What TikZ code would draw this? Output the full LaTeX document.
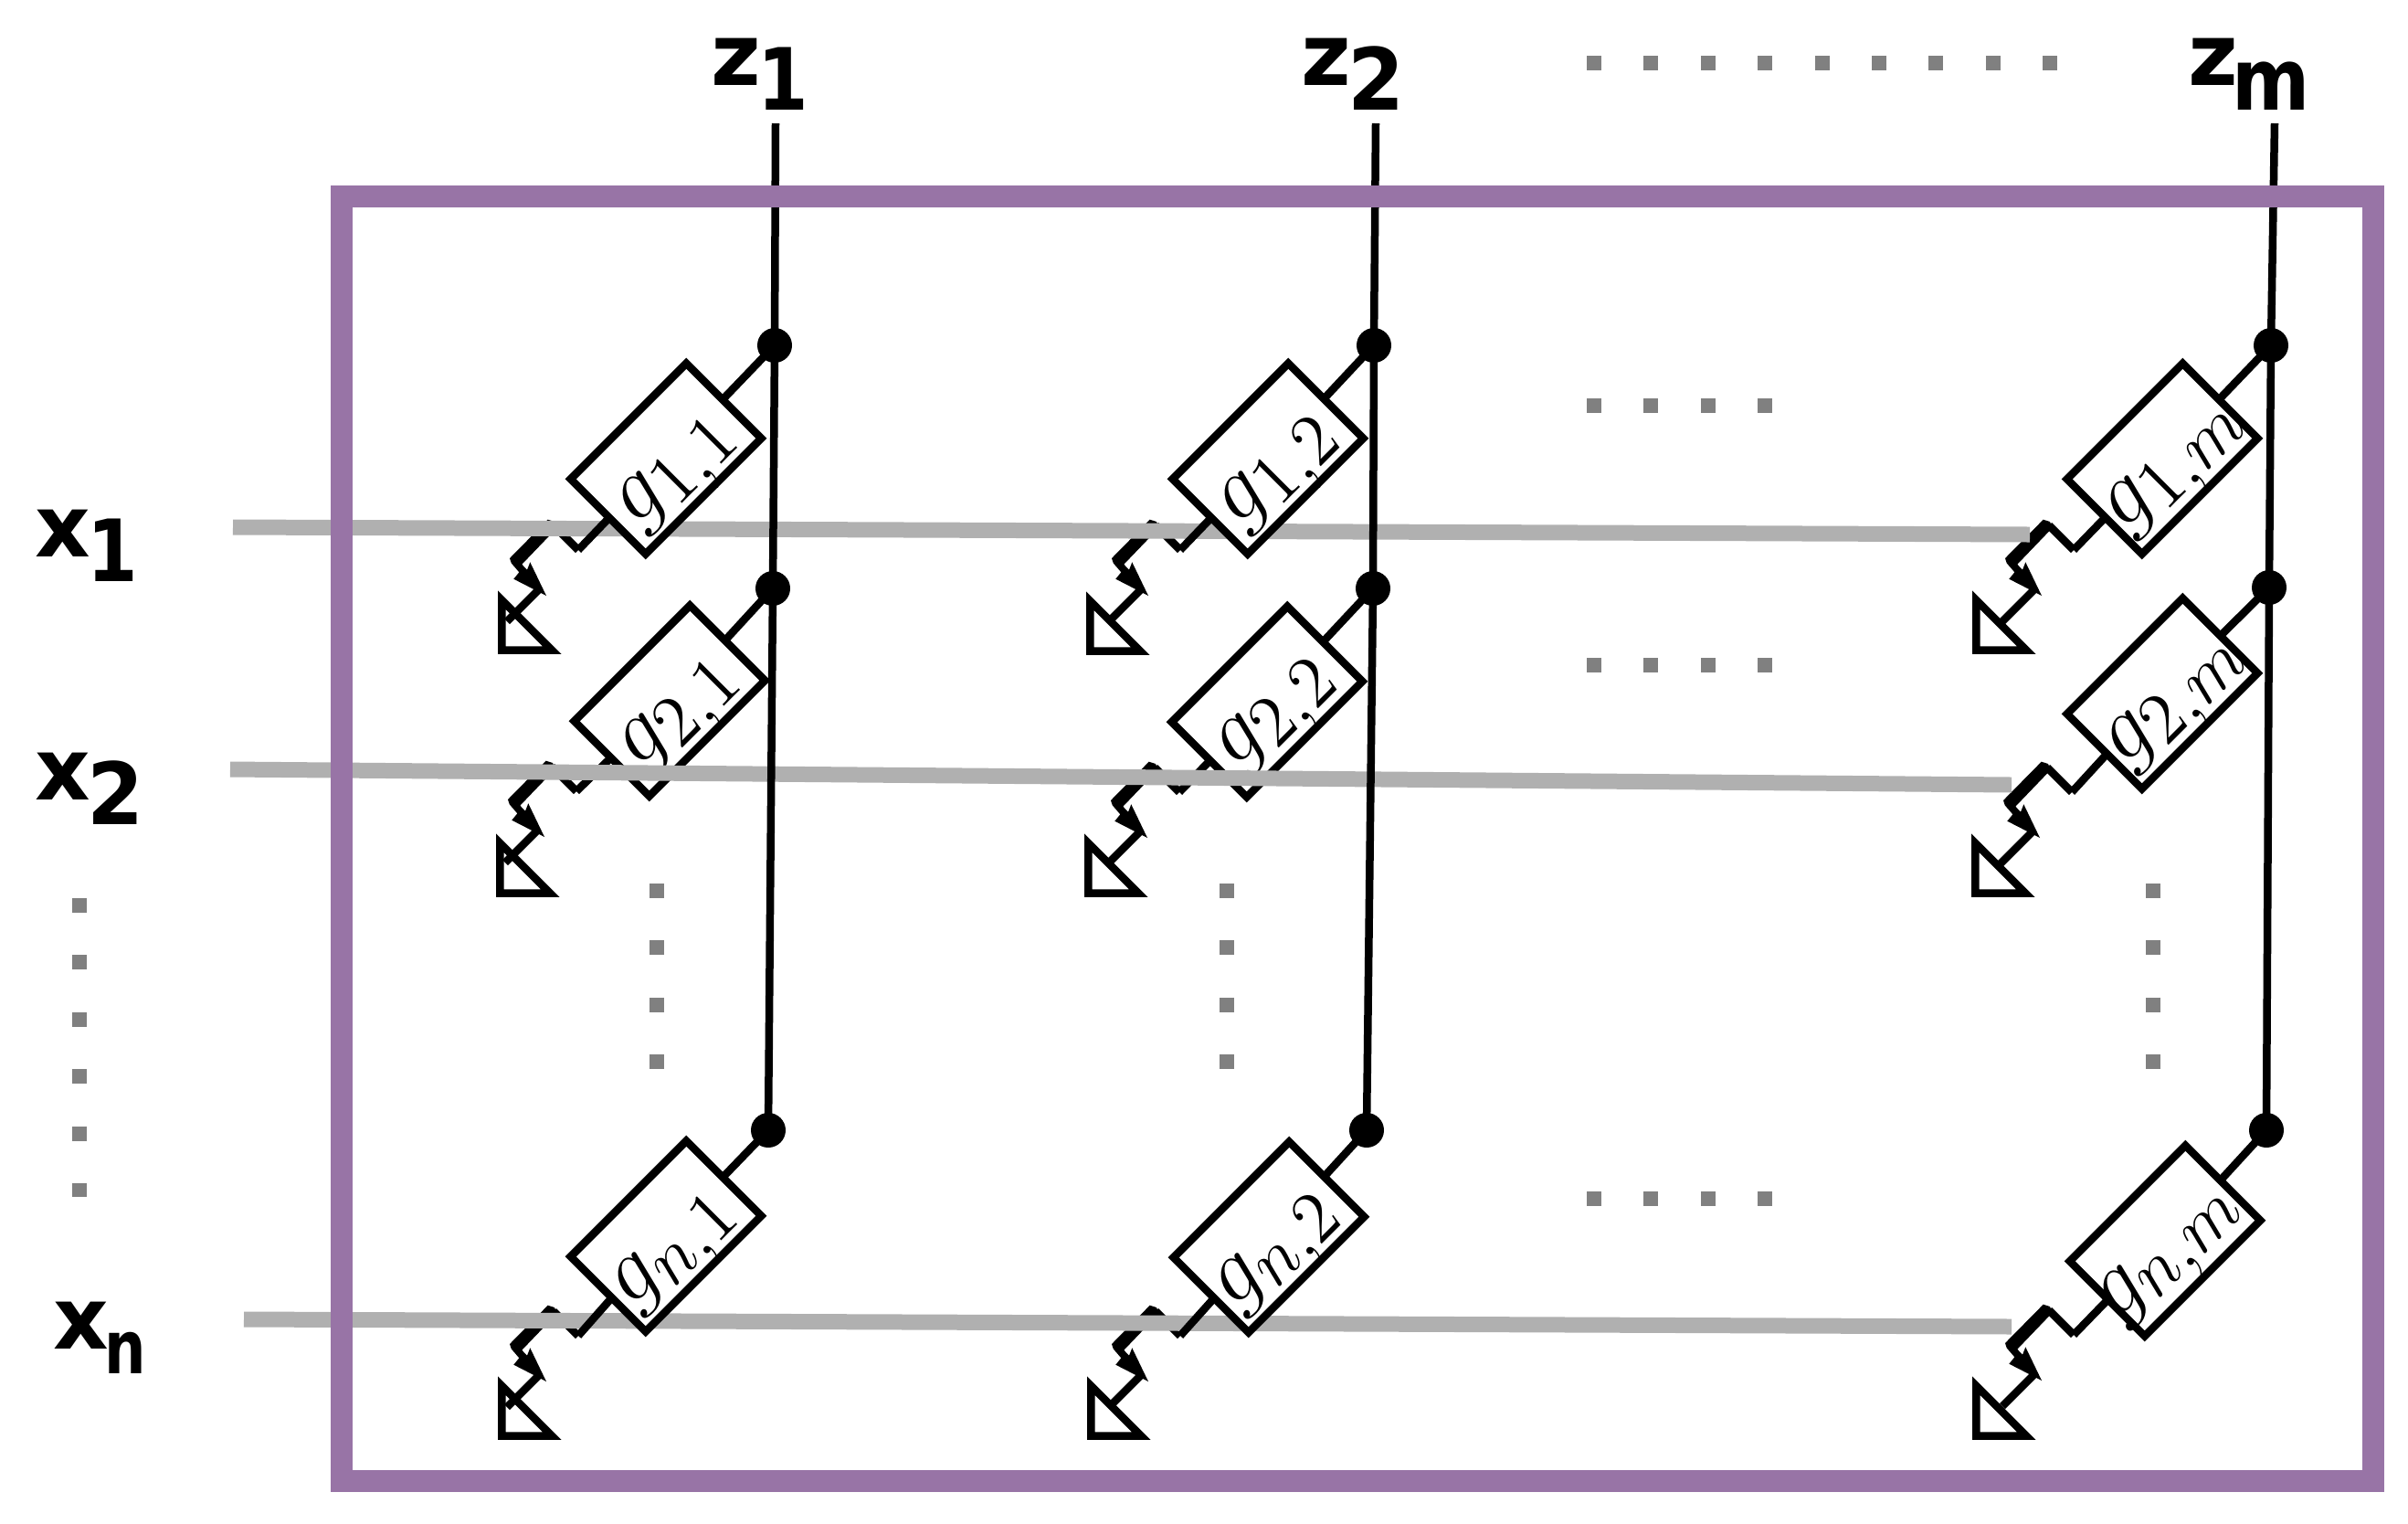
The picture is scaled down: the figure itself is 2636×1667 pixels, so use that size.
\documentclass[tikz,border=0pt]{standalone}
\usetikzlibrary{calc}
\usepackage{fontspec}
\setmainfont{DejaVu Sans}
\definecolor{frameP}{HTML}{9874A6}
\definecolor{railG}{HTML}{B0B0B0}
\definecolor{dotG}{HTML}{808080}
\tikzset{
 wire/.style={line width=4.25pt,black},
 rail/.style={line width=8.5pt,railG},
 frm/.style={line width=12pt,frameP,line join=miter},
 gbox/.style={draw,line width=4.25pt,fill=white,rotate=45,minimum width=89.5pt,minimum height=58pt,inner sep=0pt},
 glabel/.style={rotate=45,anchor=base west,inner sep=0pt,scale=2.41,font=\fontsize{20.74}{24}\selectfont},
 joint/.style={circle,fill=black,inner sep=0pt,minimum size=19pt},
 tag/.style={anchor=base west,inner sep=0pt,font=\fontsize{47}{50}\selectfont\bfseries},
 dotsg/.style={line width=8pt,dotG,dash pattern=on 8pt off 23.2pt},
}
% kern, x scale, y scale, text
\newcommand{\lowsub}[4]{\kern#1pt\lower13.7pt\hbox{\scalebox{#2}[#3]{#4}}}
\begin{document}
\begin{tikzpicture}[x=0.5pt,y=-0.5pt]
\useasboundingbox (0,0) rectangle (2636,1667);
\foreach \c/\tx in {1/849,2/1506,m/2490}{
  \coordinate (t\c) at (\tx,135);
}
% joints
\foreach \id/\x/\y in {11/848/378,21/846/644,n1/841/1237,12/1504/378,22/1503/644,n2/1496/1237,1m/2486/378,2m/2484/643,nm/2481/1237}{
  \coordinate (d\id) at (\x,\y);
}
% grounded leads
\foreach \id/\px/\py/\tx/\ty in {11/633/602/545/716,21/631/866/543/982,n1/633/1462/545/1576,
 12/1292/602/1189/717,22/1291/867/1187/982,n2/1292/1462/1190/1576,
 1m/2270/602/2159/716,2m/2268/867/2158/982,nm/2270/1461/2159/1576}{
  \coordinate (P\id) at (\px,\py);
  \coordinate (T\id) at (\tx,\ty);
  \begin{scope}[shift={(P\id)}]
    \coordinate (A\id) at (-27,-27);
    \coordinate (B\id) at (-43,43);
    \coordinate (C\id) at (-78,78);
    \draw[wire,line join=miter] (A\id) -- (0,0);
    \fill[black] (-33.3,-33.3) -- (-26,-31) -- (-23.3,-24.3) -- (-61.7,15.7) -- (-56,21.7) -- (-52.7,13.3) -- (-35,50) -- (-50,42.3) -- (-70.7,31.7) -- (-64.7,24.3) -- (-73.3,14.3) -- (-75,9) -- cycle;
    \draw[wire] (B\id) -- (C\id);
  \end{scope}
  \draw[wire,line join=miter] ($(T\id)+(4.3,-4.3)$) -- ++(0,-55) -- ++(55,55) -- cycle;
}
% rails of rows 1 and n run under the boxes
\coordinate (r1a) at (255,577); \coordinate (r1b) at (2222,585);
\coordinate (r2a) at (252,842); \coordinate (r2b) at (2202,859);
\coordinate (rna) at (267,1444); \coordinate (rnb) at (2202,1452);
\foreach \r in {1,n}{ \draw[rail] (r\r a) -- (r\r b); }
% connectors behind boxes and the boxes
\foreach \id/\bx/\by/\lx/\ly/\lab in {11/729/502/-33/76.5/{1,1},21/733/767/-34/76.5/{2,1},n1/729/1353/-38.5/80.5/{n,1},
 12/1388/502/-33/76.5/{1,2},22/1387/768/-35.5/75.5/{2,2},n2/1389/1354/-38.5/80.5/{n,2},
 1m/2367/502/-42.5/81.5/{1,m},2m/2367/759/-41.5/81.5/{2,m},nm/2370/1358/-53.5/89.5/{n,m}}{
  \coordinate (bc\id) at (\bx,\by);
  \draw[wire] (d\id) -- (bc\id);
  \draw[wire] (P\id) -- (bc\id);
  \node[gbox] (g\id) at (bc\id) {};
  \node[glabel] (l\id) at ($(bc\id)+(\lx,\ly)$) {$g_{\scalebox{1.15}{$\scriptstyle\lab$}}$};
}
% rail of row 2 runs over its boxes
\draw[rail] (r2a) -- (r2b);
% verticals
\draw[wire] (t1) -- (d11) -- (d21) -- (dn1);
\draw[wire] (t2) -- (d12) -- (d22) -- (dn2);
\draw[wire] (tm) -- (d1m) -- (d2m) -- (dnm);
\foreach \id in {11,21,n1,12,22,n2,1m,2m,nm}{ \node[joint] (j\id) at (d\id) {}; }
% frame
\coordinate (fa) at (374,215);
\coordinate (fb) at (2598,1621);
\draw[frm] (fa) rectangle (fb);
% dots
\coordinate (q1) at (1737,69); \coordinate (q2) at (2260,69);
\draw[dotsg] (q1) -- (q2);
\foreach \y in {444,728,1312}{
  \coordinate (qa\y) at (1737,\y); \coordinate (qb\y) at (1960,\y);
  \draw[dotsg] (qa\y) -- (qb\y);
}
\foreach \x in {719,1343,2357}{
  \coordinate (va\x) at (\x,967); \coordinate (vb\x) at (\x,1175);
  \draw[dotsg] (va\x) -- (vb\x);
}
\coordinate (vc) at (87,983); \coordinate (vd) at (87,1310);
\draw[dotsg] (vc) -- (vd);
% labels
\node[tag] (z1) at (778,93) {z\lowsub{-2}{.85}{1}{1}};
\node[tag] (z2) at (1424,93) {z\lowsub{-2}{.95}{1}{2}};
\node[tag] (zm) at (2395,93) {z\lowsub{-3.5}{.87}{1}{m}};
\node[tag] (x1) at (38,609) {x\lowsub{-2}{.85}{1}{1}};
\node[tag] (x2) at (38,875) {x\lowsub{-2}{.95}{1}{2}};
\node[tag] (xn) at (58,1476) {x\lowsub{-2.5}{.68}{.86}{n}};
\end{tikzpicture}
\end{document}
